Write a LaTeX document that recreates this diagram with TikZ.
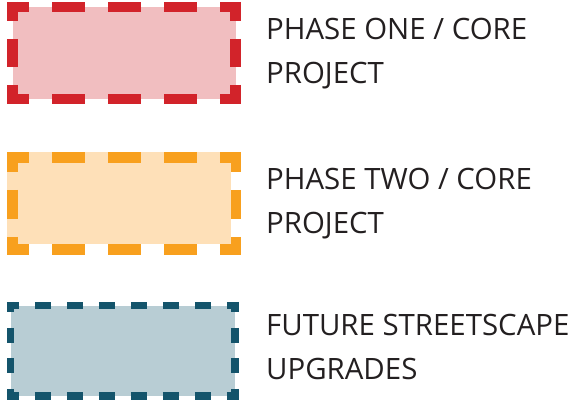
\documentclass[tikz,border=0pt]{standalone}
\usepackage{fontspec}
\setmainfont{Open Sans}
\usepackage{tikz}
\usetikzlibrary{positioning}

\definecolor{redline}{HTML}{D2232A}
\definecolor{redfill}{HTML}{F1BEC0}
\definecolor{orangeline}{HTML}{F8A01E}
\definecolor{orangefill}{HTML}{FEE0B8}
\definecolor{tealline}{HTML}{14546B}
\definecolor{tealfill}{HTML}{B8CDD4}
\definecolor{ink}{HTML}{231F20}

\begin{document}
\begin{tikzpicture}[
    x=1pt, y=-1pt,
    swatch/.style={rectangle, inner sep=0pt, outer sep=0pt, anchor=north west},
    legend/.style={anchor=base west, inner sep=0pt, align=left, text=ink,
        font=\fontsize{29.4}{43.5}\selectfont},
    thick side/.style={line width=10.5pt, shorten <=-5.25pt, shorten >=-5.25pt},
    thin side/.style={line width=7.5pt, shorten <=-3.75pt, shorten >=-3.75pt}
]
    \useasboundingbox (0,0) rectangle (575,402);

    % swatches
    \node [swatch, fill=redfill, minimum width=223pt, minimum height=92pt] (one) at (12.5,7) {};
    \node [swatch, fill=orangefill, minimum width=224pt, minimum height=92pt] (twofill) at (7,152) {};
    \node [swatch, minimum width=223.5pt, minimum height=92pt] (two) at (12.5,157.5) {};
    \node [swatch, fill=tealfill, minimum width=224.5pt, minimum height=90.5pt] (three) at (10.5,305.5) {};

    % dashed frames
    \foreach \a/\b in {north west/north east, south west/south east} {
        \draw [thick side, redline, dash pattern=on 33pt off 23pt, dash phase=11pt] (one.\a) -- (one.\b);
        \draw [thick side, orangeline, dash pattern=on 33pt off 23pt, dash phase=11pt] (two.\a) -- (two.\b);
        \draw [thin side, tealline, dash pattern=on 16pt off 16pt, dash phase=4pt] (three.\a) -- (three.\b);
    }
    \foreach \a/\b in {north west/south west, north east/south east} {
        \draw [thick side, redline, dash pattern=on 28pt off 18pt, dash phase=9pt] (one.\a) -- (one.\b);
        \draw [thick side, orangeline, dash pattern=on 29pt off 18pt, dash phase=9.5pt] (two.\a) -- (two.\b);
        \draw [thin side, tealline, dash pattern=on 15pt off 15.5pt, dash phase=4.5pt] (three.\a) -- (three.\b);
    }

    % labels (anchored at the baseline of the second line)
    \node [legend] (onetext) at (266,83) {PHASE ONE / CORE\\PROJECT};
    \node [legend] (twotext) at (266,233) {PHASE TWO / CORE\\PROJECT};
    \node [legend] (threetext) at (266,379) {FUTURE STREETSCAPE\\UPGRADES};
\end{tikzpicture}
\end{document}
